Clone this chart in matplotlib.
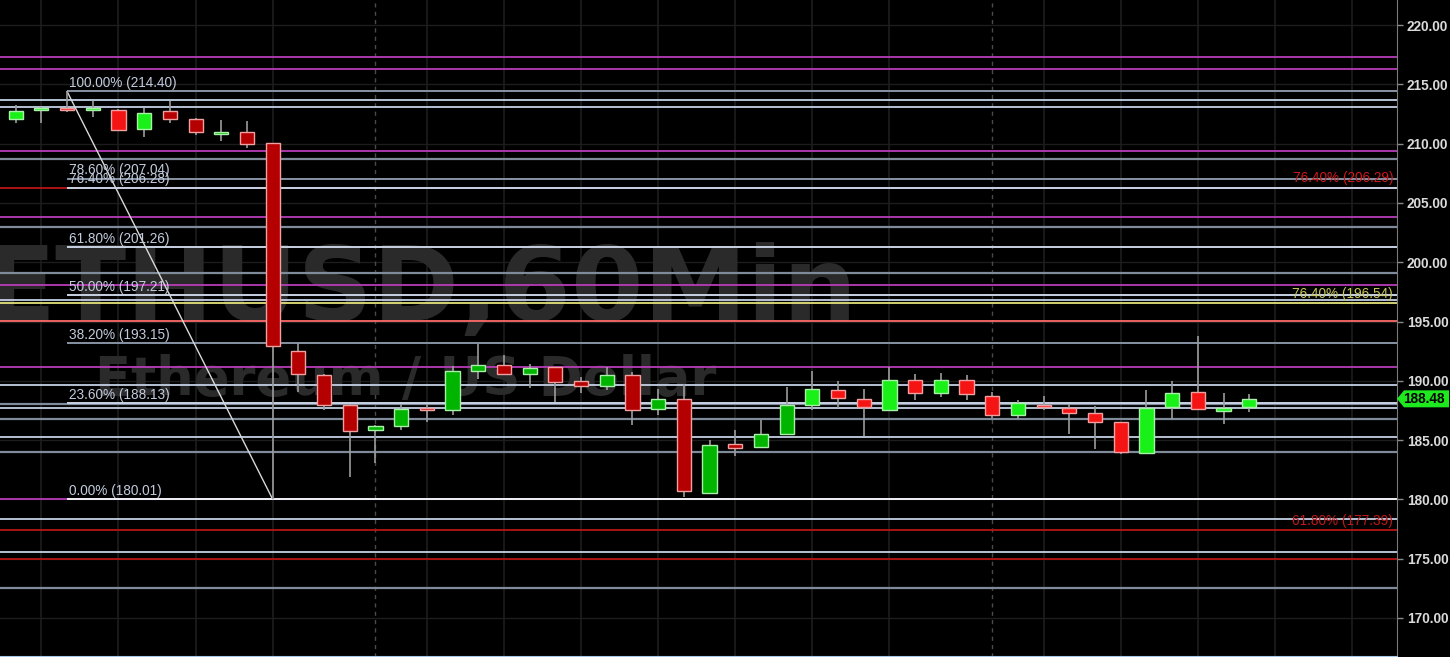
"""
ETHUSD 60-minute candles with Fibonacci retracement levels.
Run: python plot.py  ->  out.png
"""

import matplotlib.pyplot as plt
from matplotlib.patches import Rectangle, Polygon

# ── 1. Data ───────────────────────────────────────────────────────────────────
opens  = [212.09, 212.85, 213.00, 212.85, 212.85, 211.20, 212.75, 212.10, 210.85, 210.95,
          210.02, 192.55, 190.50, 188.00, 185.85, 186.15, 187.70, 187.50, 190.85, 191.35,
          190.60, 191.15, 189.95, 189.60, 190.50, 187.65, 188.50, 180.55, 184.70, 184.40,
          185.50, 188.00, 189.20, 188.50, 187.55, 190.05, 189.00, 190.05, 188.70, 187.15,
          188.00, 187.70, 187.30, 186.50, 183.95, 187.75, 189.05, 187.45, 187.75]
highs  = [213.25, 213.10, 214.40, 213.60, 212.90, 213.02, 213.60, 212.20, 211.98, 211.90,
          210.05, 193.15, 190.55, 188.05, 186.30, 188.02, 188.02, 191.25, 193.08, 192.15,
          191.40, 191.20, 190.32, 191.17, 190.74, 189.34, 189.70, 184.98, 185.88, 186.67,
          189.48, 190.80, 189.98, 189.34, 191.17, 190.55, 190.66, 190.46, 189.06, 188.35,
          188.72, 188.08, 187.85, 186.55, 189.20, 189.98, 193.76, 189.00, 188.86]
lows   = [211.70, 211.76, 212.70, 212.26, 211.05, 210.55, 211.76, 210.74, 210.20, 209.60,
          180.01, 189.05, 187.51, 181.88, 183.10, 185.82, 186.52, 187.09, 190.15, 190.50,
          189.43, 188.21, 188.97, 189.26, 186.25, 187.09, 180.20, 180.50, 183.66, 184.30,
          185.45, 187.51, 187.74, 185.32, 187.50, 188.35, 188.64, 188.35, 186.90, 186.75,
          187.51, 185.49, 184.28, 183.86, 183.90, 186.81, 187.51, 186.33, 187.34]
closes = [212.77, 213.00, 212.80, 213.00, 211.15, 212.60, 212.10, 210.95, 210.95, 209.95,
          192.90, 190.55, 188.00, 185.80, 186.20, 187.65, 187.50, 190.80, 191.30, 190.55,
          191.05, 189.90, 189.60, 190.45, 187.50, 188.50, 180.70, 184.60, 184.35, 185.50,
          188.00, 189.30, 188.55, 187.75, 190.05, 189.00, 190.05, 188.90, 187.15, 188.15,
          187.75, 187.25, 186.55, 184.00, 187.70, 189.00, 187.60, 187.70, 188.48]

# Fibonacci retracement (swing high bar 2 -> swing low bar 10)
fib_pcts   = ['100.00%', '78.60%', '76.40%', '61.80%', '50.00%', '38.20%', '23.60%', '0.00%']
fib_values = [214.40, 207.04, 206.28, 201.26, 197.21, 193.15, 188.13, 180.01]
fib_start, fib_end = 2, 10

# Other drawn support / resistance levels
magenta_levels = [217.33, 216.29, 209.37, 203.80, 198.06, 191.17, 180.01]
gray_levels    = [208.69, 202.98, 199.10, 188.07, 186.81, 183.97, 172.55]
light_levels   = [213.67, 213.05, 196.79, 189.62, 187.74, 185.26, 178.34, 175.53]
red_levels     = [206.29, 177.39, 174.94]
salmon_levels  = [195.05]
yellow_levels  = [196.54]

# Labels of other Fibonacci tools shown on the right edge
ext_labels = [('76.40%', 206.29, '#d01818'), ('76.40%', 196.54, '#c8c858'),
              ('61.80%', 177.39, '#c01818')]

last_price = 188.48
y_ticks    = [170, 175, 180, 185, 190, 195, 200, 205, 210, 215, 220]
day_breaks = [14, 38]

# ── 2. Figure ─────────────────────────────────────────────────────────────────
BG = '#000000'
fig = plt.figure(figsize=(14.5, 6.57), dpi=100, facecolor=BG)
ax = fig.add_axes([0, 0, 1397 / 1450, 1], facecolor=BG)
ax.set_xlim(-0.61, 53.75)
ax.set_ylim(166.71, 222.11)

# grid
for t in y_ticks:
    ax.axhline(t, color='#1d1d1d', lw=1, zorder=0)
for i in range(1, 54, 3):
    if i in (13, 37):
        continue
    ax.axvline(i, color='#1d1d1d', lw=1.2, zorder=0)
for d in day_breaks:
    ax.axvline(d, color='#4a4a4a', lw=1, ls=(0, (3, 3)), zorder=0)

# watermark (left edge of the "E" runs off the chart, as in the platform)
ax.text(857 / 1397, 1 - 321 / 657, 'ETHUSD,60Min', transform=ax.transAxes,
        ha='right', va='baseline', fontsize=75, fontweight='bold',
        family='DejaVu Sans', color='#2a2a2a', zorder=0)
ax.text(406 / 1397, 1 - 395 / 657, 'Ethereum / US Dollar', transform=ax.transAxes,
        ha='center', va='baseline', fontsize=38, fontweight='bold',
        family='DejaVu Sans', color='#2a2a2a', zorder=0)

# ── 3. Horizontal levels ──────────────────────────────────────────────────────
for lv in magenta_levels:
    ax.axhline(lv, color='#b83cb8', lw=1.3, zorder=1)
for lv in gray_levels:
    ax.axhline(lv, color='#7f8b9b', lw=1.6, zorder=1)
for lv in light_levels:
    ax.axhline(lv, color='#c4d0e4', lw=1.3, zorder=1)
for lv in red_levels:
    ax.axhline(lv, color='#b81414', lw=1.3, zorder=1)
for lv in salmon_levels:
    ax.axhline(lv, color='#ff6a6a', lw=1.3, zorder=1)
for lv in yellow_levels:
    ax.axhline(lv, color='#e2e27a', lw=1.3, zorder=1)

for txt, lv, col in ext_labels:
    ax.text(53.6, lv + 0.2, f'{txt} ({lv:.2f})', ha='right', va='bottom',
            fontsize=9.8, family='Liberation Sans', color=col, zorder=3)

# Fibonacci lines + labels
fib_gray = {'100.00%', '78.60%', '38.20%'}
for pct, val in zip(fib_pcts, fib_values):
    col = '#8793a4' if pct in fib_gray else ('#f0f0f4' if pct == '0.00%' else '#c8d2e4')
    ax.hlines(val, fib_start, 53.75, color=col, lw=1.4, zorder=2)
    ax.text(fib_start + 0.08, val + 0.12, f'{pct} ({val:.2f})', ha='left', va='bottom',
            fontsize=9.8, family='Liberation Sans', color='#c2cbdc', zorder=3)
ax.plot([fib_start, fib_end], [fib_values[0], fib_values[-1]], color='#d8d8d8', lw=1, zorder=2)

# ── 4. Candles ────────────────────────────────────────────────────────────────
bright = set(range(0, 6)) | set(range(31, 49))
width = 0.55
for i, (o, h, l, c) in enumerate(zip(opens, highs, lows, closes)):
    up = c >= o
    if up:
        face = '#18f018' if i in bright else '#00b400'
        edge = '#a8f0a8'
    else:
        face = '#f41414' if i in bright else '#b40000'
        edge = '#f0a0a0'
    ax.vlines(i, l, h, color='#9c9c9c', lw=1.2, zorder=4)
    bot, top = min(o, c), max(o, c)
    ax.add_patch(Rectangle((i - width / 2, bot), width, max(top - bot, 0.12),
                           facecolor=face, edgecolor=edge, lw=1, zorder=5))

# ── 5. Right price axis ───────────────────────────────────────────────────────
ax.yaxis.tick_right()
ax.set_yticks(y_ticks)
ax.set_yticklabels([f'{t:.2f}' for t in y_ticks])
ax.tick_params(axis='y', colors='#8a8a8a', length=4, width=1, pad=3)
for lab in ax.get_yticklabels():
    lab.set_color('#dadada')
    lab.set_fontweight('bold')
    lab.set_family('Liberation Sans')
    lab.set_fontsize(9.8)
ax.set_xticks([])
for side in ('top', 'left'):
    ax.spines[side].set_visible(False)
ax.spines['right'].set_color('#7a7a7a')
ax.spines['bottom'].set_color('#a8c8e8')
ax.spines['bottom'].set_linewidth(1.5)

# last price tag
ymin, ymax = ax.get_ylim()
yf = (last_price - ymin) / (ymax - ymin)
hh = 8.5 / 657
x0 = 1.0
x1 = 1404 / 1397
x2 = 1449 / 1397
tag = Polygon([(x0, yf), (x1, yf + hh), (x2, yf + hh), (x2, yf - hh), (x1, yf - hh)],
              closed=True, transform=ax.transAxes, facecolor='#1ee81e',
              edgecolor='none', clip_on=False, zorder=6)
ax.add_patch(tag)
ax.text(1424 / 1397, yf, f'{last_price:.2f}', transform=ax.transAxes, ha='center',
        va='center', fontsize=9.8, fontweight='bold', family='Liberation Sans',
        color='#000000', zorder=7, clip_on=False)

plt.savefig('out.png', dpi=100, facecolor=BG)
